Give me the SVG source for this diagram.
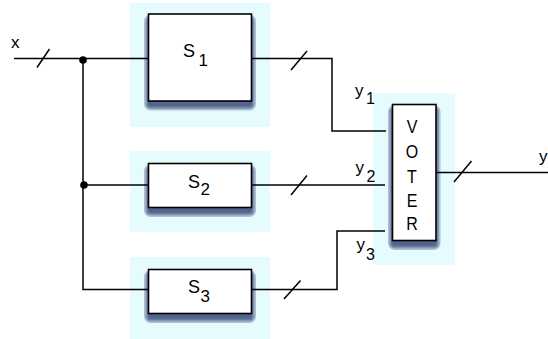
<svg xmlns="http://www.w3.org/2000/svg" width="548" height="339" viewBox="0 0 548 339">
<style>
.bg{fill:#e6fbfd;stroke:none}
.box{fill:#fff;stroke:#000;stroke-width:1.6}
.sh{fill:#1c2c66;fill-opacity:0.28;stroke:none}
.w{fill:none;stroke:#000;stroke-width:1.5}
text{font-family:"Liberation Sans",Arial,sans-serif;fill:#000}
</style>
<rect width="548" height="339" fill="#fff"/>
<g id="S1">
<rect class="bg" x="130" y="3" width="140" height="124"/>
<g class="sh">
<rect x="148.5" y="19" width="103" height="87" rx="2"/>
<rect x="147" y="17.5" width="106" height="90" rx="3.5"/>
<rect x="145.5" y="16" width="109" height="93" rx="5"/>
<rect x="144" y="14.5" width="112" height="96" rx="6.5"/>
</g>
<rect class="box" x="148.5" y="14" width="103" height="87"/>
<text x="183" y="56.5" font-size="18">S</text><text x="198.5" y="66" font-size="17">1</text>
</g>
<g id="S2">
<rect class="bg" x="130" y="151" width="140" height="81"/>
<g class="sh">
<rect x="148.5" y="168.5" width="103" height="44" rx="2"/>
<rect x="147" y="167" width="106" height="47" rx="3.5"/>
<rect x="145.5" y="165.5" width="109" height="50" rx="5"/>
<rect x="144" y="164" width="112" height="53" rx="6.5"/>
</g>
<rect class="box" x="148.5" y="163.5" width="103" height="44"/>
<text x="188" y="187.5" font-size="18">S</text><text x="200.5" y="195" font-size="17">2</text>
</g>
<g id="S3">
<rect class="bg" x="130" y="257" width="140" height="82"/>
<g class="sh">
<rect x="148.5" y="274.5" width="103" height="44" rx="2"/>
<rect x="147" y="273" width="106" height="47" rx="3.5"/>
<rect x="145.5" y="271.5" width="109" height="50" rx="5"/>
<rect x="144" y="270" width="112" height="53" rx="6.5"/>
</g>
<rect class="box" x="148.5" y="269.5" width="103" height="44"/>
<text x="188" y="293" font-size="18">S</text><text x="200.5" y="301.5" font-size="17">3</text>
</g>
<g id="VOTER">
<rect class="bg" x="373" y="93" width="82" height="172"/>
<g class="sh">
<rect x="392.5" y="109.5" width="43.5" height="136" rx="2"/>
<rect x="391" y="108" width="46.5" height="139" rx="3.5"/>
<rect x="389.5" y="106.5" width="49.5" height="142" rx="5"/>
<rect x="388" y="105" width="52.5" height="145" rx="6.5"/>
</g>
<rect class="box" x="392.5" y="104.5" width="43.5" height="136"/>
<g font-size="16" text-anchor="middle">
<text transform="translate(412,133.3) scale(1,1.2)">V</text>
<text transform="translate(412,158.3) scale(1,1.2)">O</text>
<text transform="translate(412,183.3) scale(1,1.2)">T</text>
<text transform="translate(412,206.7) scale(1,1.2)">E</text>
<text transform="translate(412,230) scale(1,1.2)">R</text>
</g>
</g>
<g id="connectors">
<path class="w" d="M14 58.5H148.5"/>
<path class="w" d="M83 58.5V289.5H148.5"/>
<path class="w" d="M83 185H148.5"/>
<path class="w" d="M251.5 58.5H332V131H386"/>
<path class="w" d="M251.5 185H385"/>
<path class="w" d="M251.5 289.5H337V231H385"/>
<path class="w" d="M436 172.5H548"/>
<circle cx="83" cy="60" r="3.8" fill="#000"/>
<circle cx="84" cy="185" r="3.8" fill="#000"/>
<path class="w" d="M37 67.5L49.5 49M291 70L307 51M291 195L307 175.5M284 299L300.5 280.5M454 182L471.5 161"/>
</g>
<g id="labels">
<text x="11" y="47.5" font-size="17">x</text>
<text x="355" y="96" font-size="17">y</text><text x="366" y="103.5" font-size="16">1</text>
<text x="355.5" y="173" font-size="17">y</text><text x="366.5" y="181.5" font-size="16">2</text>
<text x="356.5" y="250" font-size="17">y</text><text x="366" y="260" font-size="16">3</text>
<text x="539" y="161.5" font-size="17">y</text>
</g>
</svg>
